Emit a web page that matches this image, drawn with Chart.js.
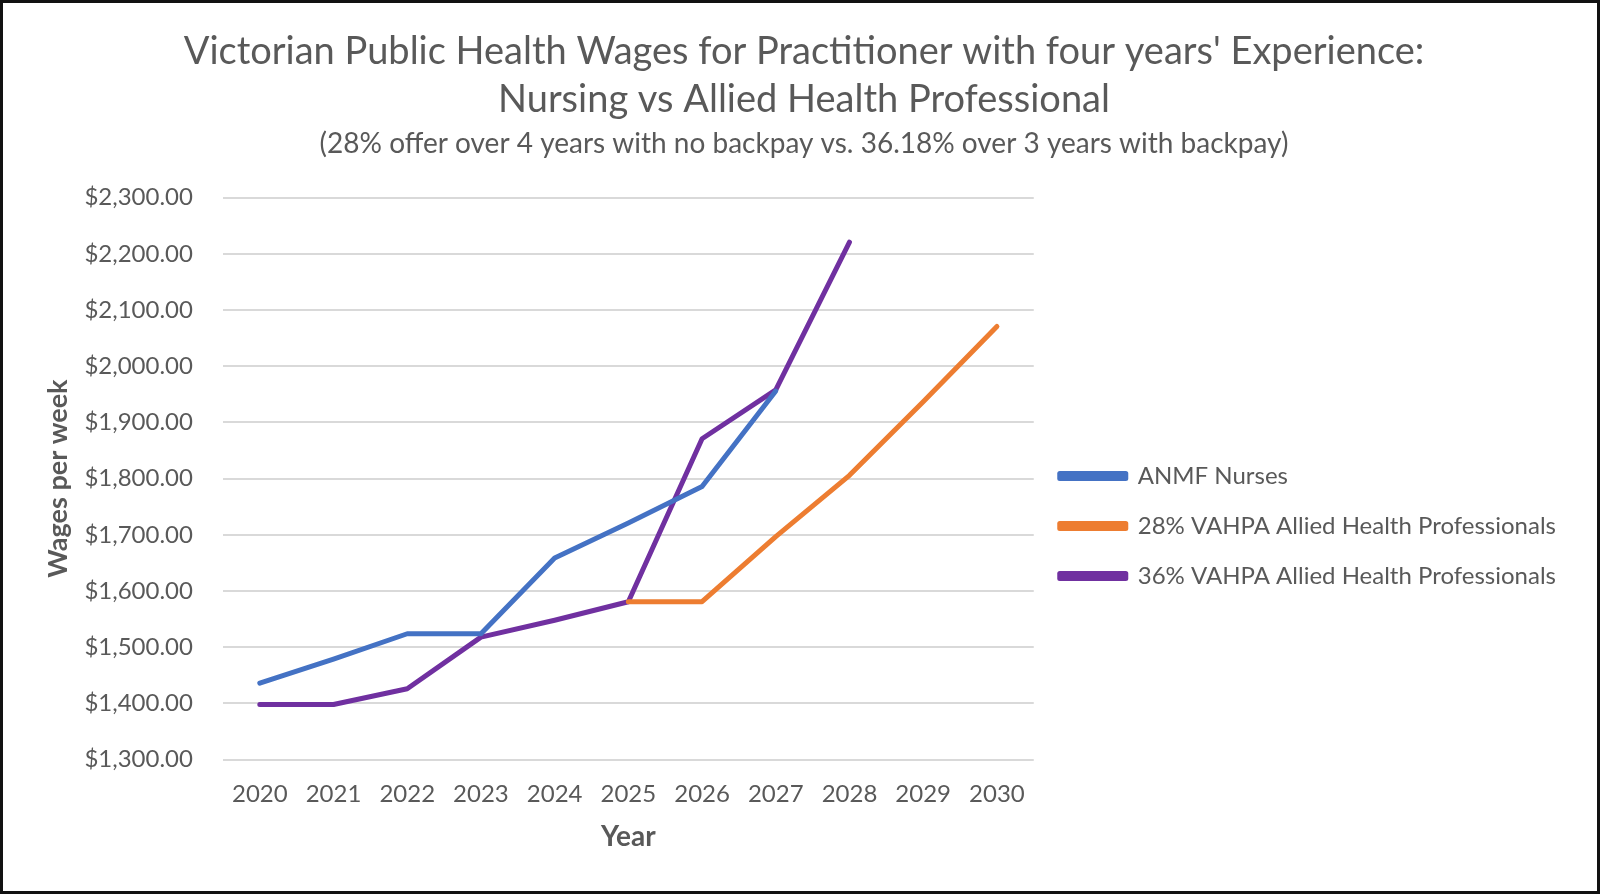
<!DOCTYPE html>
<html>
<head>
<meta charset="utf-8">
<script src="https://cdn.jsdelivr.net/npm/chart.js@4/dist/chart.umd.min.js"></script>
<style>
  html, body { margin: 0; padding: 0; background: #fff; }
  #wrap { position: relative; width: 1600px; height: 894px; }
  #frame { position: absolute; left: 0; top: 0; width: 1600px; height: 894px; box-sizing: border-box; border: 3px solid #111; pointer-events: none; }
</style>
</head>
<body>
<div id="wrap">
  <canvas id="chart" width="1600" height="894"></canvas>
  <div id="frame"></div>
</div>
<script>
// years on the x axis
const years = ['2020', '2021', '2022', '2023', '2024', '2025', '2026', '2027', '2028', '2029', '2030'];

// weekly wages
const anmfNurses = [1436, 1479, 1524, 1524, 1659, 1721, 1786, 1956, null, null, null];
const vahpa28 = [null, null, null, null, null, 1581, 1581, 1697, 1806, 1937, 2071];
const vahpa36 = [1398, 1398, 1426, 1518, 1548, 1581, 1871, 1958, 2221, null, null];

const yTicks = [1300, 1400, 1500, 1600, 1700, 1800, 1900, 2000, 2100, 2200, 2300];
const yTickLabels = ['$1,300.00', '$1,400.00', '$1,500.00', '$1,600.00', '$1,700.00', '$1,800.00',
  '$1,900.00', '$2,000.00', '$2,100.00', '$2,200.00', '$2,300.00'];

const FONT = 'Lato, "Open Sans", sans-serif';
const GREY = '#595959';

function line(label, data, color) {
  return {
    label: label,
    data: data,
    borderColor: color,
    backgroundColor: color,
    borderWidth: 5,
    borderCapStyle: 'round',
    borderJoinStyle: 'round',
    pointRadius: 0,
    pointHoverRadius: 0,
    tension: 0,
    spanGaps: false
  };
}

const ctx = document.getElementById('chart').getContext('2d');
new Chart(ctx, {
  type: 'line',
  data: {
    labels: years,
    datasets: [
      line('ANMF Nurses', anmfNurses, '#4472C4'),
      line('28% VAHPA Allied Health Professionals', vahpa28, '#ED7D31'),
      line('36% VAHPA Allied Health Professionals', vahpa36, '#7030A0')
    ]
  },
  options: {
    responsive: false,
    animation: false,
    devicePixelRatio: 1,
    layout: { padding: { left: 42, right: 34, top: 0, bottom: 40 } },
    plugins: {
      title: {
        display: true,
        text: ["Victorian Public Health Wages for Practitioner with four years' Experience:",
               'Nursing vs Allied Health Professional'],
        color: GREY,
        font: { family: FONT, size: 38, weight: 'normal', lineHeight: 1.26 },
        padding: { top: 28, bottom: 6 }
      },
      subtitle: {
        display: true,
        text: '(28% offer over 4 years with no backpay vs. 36.18% over 3 years with backpay)',
        color: GREY,
        font: { family: FONT, size: 28, weight: 'normal', lineHeight: 1.0 },
        padding: { top: 0, bottom: 40 }
      },
      legend: {
        position: 'right',
        maxWidth: 600,
        // blank title only pushes the entries down to where they sit in the original
        title: { display: true, text: '', font: { size: 10, lineHeight: 1.2 }, padding: { top: 186, bottom: 0 } },
        labels: {
          boxWidth: 66,
          boxHeight: 5,
          color: GREY,
          padding: 26,
          font: { family: FONT, size: 24 }
        }
      },
      tooltip: { enabled: false }
    },
    scales: {
      x: {
        offset: true,
        grid: { display: false, drawTicks: false },
        border: { display: false },
        ticks: { color: GREY, padding: 20, font: { family: FONT, size: 24 } },
        title: {
          display: true,
          text: 'Year',
          color: GREY,
          font: { family: FONT, size: 28, weight: 'bold' },
          padding: { top: -8, bottom: 0 }
        }
      },
      y: {
        min: 1300,
        max: 2300,
        afterBuildTicks: (axis) => { axis.ticks = yTicks.map(v => ({ value: v })); },
        grid: { color: '#D9D9D9', lineWidth: 2, drawTicks: false },
        border: { display: false },
        ticks: {
          color: GREY,
          padding: 30,
          font: { family: FONT, size: 24 },
          callback: (v) => yTickLabels[yTicks.indexOf(v)]
        },
        title: {
          display: true,
          text: 'Wages per week',
          color: GREY,
          font: { family: FONT, size: 27, weight: 'bold' },
          padding: { top: 0, bottom: -20 }
        }
      }
    }
  }
});
</script>
</body>
</html>
